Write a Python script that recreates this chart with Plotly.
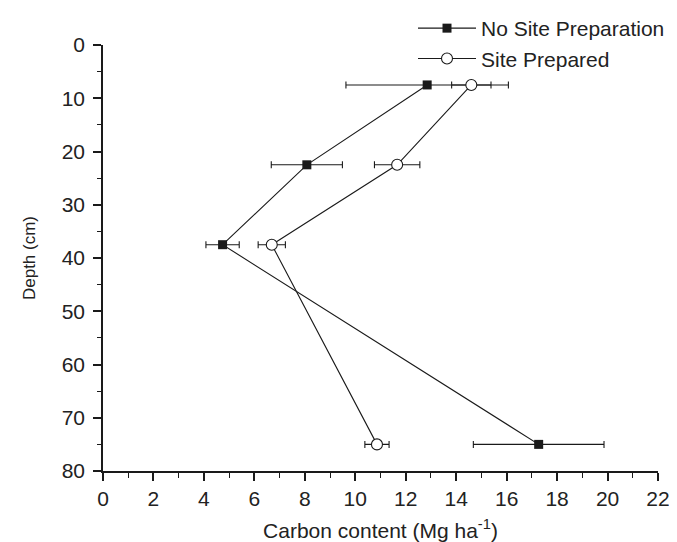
import plotly.graph_objects as go

depth = [7.5, 22.5, 37.5, 75]
nsp_carbon = [12.85, 8.08, 4.74, 17.27]
nsp_err = [3.22, 1.41, 0.66, 2.59]
sp_carbon = [14.6, 11.66, 6.69, 10.86]
sp_err = [0.78, 0.9, 0.54, 0.48]

x_ticks = list(range(0, 23, 2))
y_ticks = list(range(0, 81, 10))

FONT = "Liberation Sans, Arial, sans-serif"
INK = "#1a1a1a"
TXT = "#222222"

fig = go.Figure()
fig.add_trace(go.Scatter(
    x=nsp_carbon, y=depth, mode="lines+markers", name="No Site Preparation",
    line=dict(color=INK, width=1.1),
    marker=dict(symbol="square", size=9, color=INK, line=dict(width=0)),
    error_x=dict(type="data", array=nsp_err, visible=True, color=INK, thickness=1.1, width=3.5),
))
fig.add_trace(go.Scatter(
    x=sp_carbon, y=depth, mode="lines+markers", name="Site Prepared",
    line=dict(color=INK, width=1.1),
    marker=dict(symbol="circle", size=11, color="white", line=dict(color=INK, width=1.1)),
    error_x=dict(type="data", array=sp_err, visible=True, color=INK, thickness=1.1, width=3.5),
))

axis_common = dict(
    showline=True, linecolor=INK, linewidth=1.5, mirror=False,
    showgrid=False, zeroline=False,
    ticks="outside", ticklen=8, tickwidth=1.5, tickcolor=INK,
    tickfont=dict(family=FONT, size=21, color=TXT),
)

fig.update_xaxes(
    range=[0, 22], tickvals=x_ticks, ticktext=[str(v) for v in x_ticks],
    minor=dict(dtick=1, ticks="outside", ticklen=5, tickwidth=1.2, tickcolor=INK, showgrid=False),
    title=dict(text="Carbon content (Mg ha<sup>-1</sup>)", font=dict(family=FONT, size=21, color=TXT), standoff=14),
    automargin=False,
    **axis_common,
)
fig.update_yaxes(
    range=[80, 0], tickvals=y_ticks, ticktext=[str(v) for v in y_ticks],
    minor=dict(dtick=5, ticks="outside", ticklen=4, tickwidth=1.2, tickcolor=INK, showgrid=False),
    title=dict(text="Depth (cm)", font=dict(family=FONT, size=17, color=TXT), standoff=22),
    ticklabelstandoff=4,
    automargin=False,
    **axis_common,
)

fig.update_layout(
    width=677, height=542,
    margin=dict(l=95, r=27, t=37, b=79, autoexpand=False),
    paper_bgcolor="white", plot_bgcolor="white",
    showlegend=True,
    legend=dict(
        xref="container", yref="container",
        x=405 / 677, y=1.0, xanchor="left", yanchor="top",
        font=dict(family=FONT, size=21, color=TXT),
        bgcolor="rgba(0,0,0,0)", borderwidth=0,
        tracegroupgap=0, itemwidth=58,
    ),
)

fig.write_html("out.html")
